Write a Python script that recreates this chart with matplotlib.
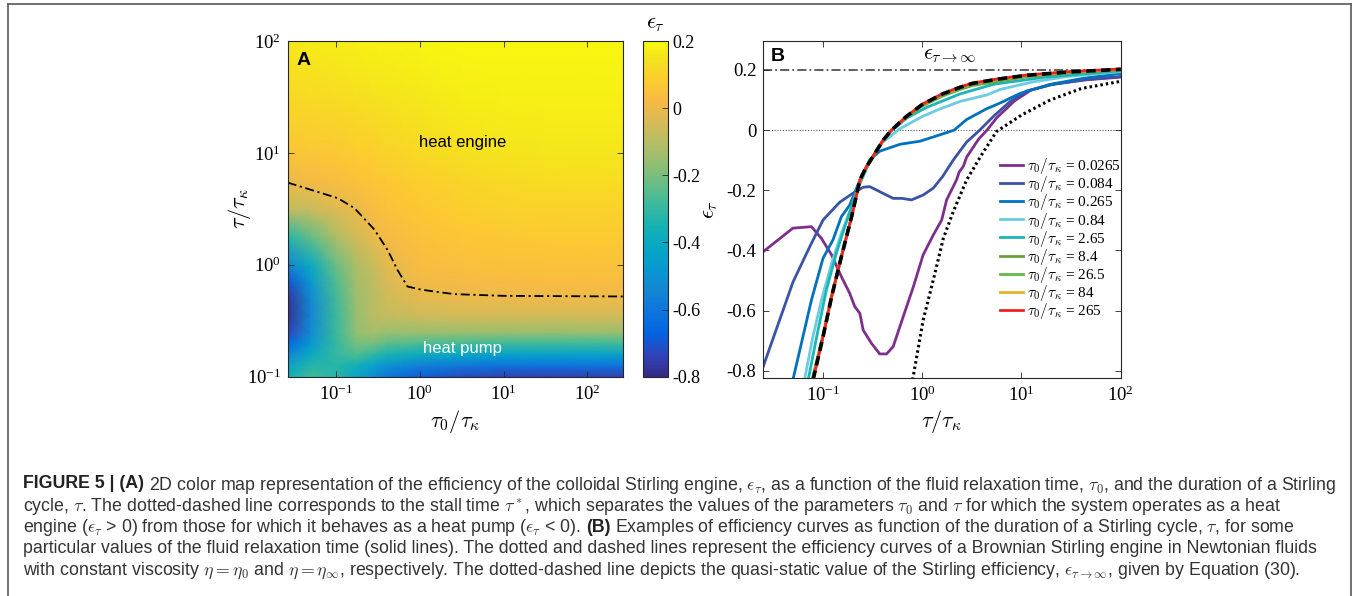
import matplotlib
matplotlib.use('Agg')
import matplotlib.pyplot as plt
import numpy as np
from matplotlib.colors import LinearSegmentedColormap
from matplotlib.font_manager import FontProperties
from matplotlib.lines import Line2D

plt.rcParams['font.family'] = ['Liberation Serif', 'DejaVu Serif']
plt.rcParams['mathtext.fontset'] = 'stix'
plt.rcParams['axes.unicode_minus'] = False

# ---------------- panel A: efficiency map ----------------
tau0_grid = [0.0265, 0.05, 0.1, 0.178, 0.28, 0.4, 1.0, 3.16, 10.0, 31.6, 265.0]
tau_grid = [0.1, 0.126, 0.158, 0.2, 0.25, 0.355, 0.5, 0.708, 1.0, 1.78, 3.16, 5.62, 10.0, 31.6, 100.0]
eff_grid = [
    [-0.38, -0.28, -0.32, -0.42, -0.52, -0.60, -0.68, -0.72, -0.74, -0.74, -0.74],
    [-0.44, -0.33, -0.32, -0.37, -0.44, -0.50, -0.56, -0.59, -0.61, -0.61, -0.61],
    [-0.55, -0.40, -0.30, -0.26, -0.31, -0.35, -0.39, -0.42, -0.44, -0.44, -0.44],
    [-0.66, -0.48, -0.30, -0.20, -0.20, -0.24, -0.26, -0.27, -0.28, -0.28, -0.28],
    [-0.74, -0.52, -0.29, -0.16, -0.13, -0.15, -0.15, -0.15, -0.15, -0.15, -0.15],
    [-0.78, -0.54, -0.29, -0.15, -0.10, -0.08, -0.06, -0.05, -0.05, -0.05, -0.05],
    [-0.77, -0.53, -0.28, -0.14, -0.10, -0.06, -0.015, -0.005, 0.0, 0.0, 0.0],
    [-0.70, -0.48, -0.26, -0.13, -0.09, -0.04, 0.01, 0.02, 0.025, 0.03, 0.03],
    [-0.55, -0.40, -0.22, -0.12, -0.07, -0.02, 0.03, 0.04, 0.045, 0.05, 0.05],
    [-0.32, -0.23, -0.12, -0.05, -0.01, 0.02, 0.05, 0.065, 0.07, 0.075, 0.075],
    [-0.08, -0.07, -0.03, 0.0, 0.03, 0.05, 0.07, 0.09, 0.10, 0.10, 0.10],
    [0.0, 0.02, 0.035, 0.05, 0.06, 0.07, 0.09, 0.11, 0.12, 0.13, 0.13],
    [0.06, 0.065, 0.07, 0.08, 0.09, 0.10, 0.12, 0.14, 0.15, 0.155, 0.155],
    [0.12, 0.125, 0.13, 0.14, 0.145, 0.15, 0.16, 0.17, 0.175, 0.175, 0.175],
    [0.16, 0.165, 0.17, 0.175, 0.18, 0.18, 0.185, 0.19, 0.19, 0.19, 0.19],
]

# stall time tau* (dotted-dashed line)
stall_tau0 = [0.0265, 0.105, 0.166, 0.288, 0.412, 0.542, 0.713, 1.03, 2.56, 10.0, 265.0]
stall_tau = [5.43, 3.94, 3.21, 2.06, 1.36, 0.90, 0.64, 0.60, 0.547, 0.528, 0.521]

cbar_ticks = [0.2, 0, -0.2, -0.4, -0.6, -0.8]
cbar_labels = ['0.2', '0', '-0.2', '-0.4', '-0.6', '-0.8']

# ---------------- panel B: efficiency curves ----------------
tau_a = [0.025, 0.0497, 0.0764, 0.0964, 0.122, 0.153, 0.186, 0.209, 0.235, 0.254,
         0.308, 0.373, 0.437, 0.509, 0.643, 0.813, 1.02, 1.29, 1.57, 1.76,
         2.22, 2.35, 2.6, 2.8, 3.7, 4.5, 5.6, 8.5, 12.5, 21, 45, 100]
eps_a = [-0.404, -0.326, -0.321, -0.36, -0.415, -0.487, -0.543, -0.587, -0.609, -0.665,
         -0.709, -0.744, -0.744, -0.72, -0.62, -0.521, -0.415, -0.349, -0.299, -0.232,
         -0.165, -0.14, -0.12, -0.09, -0.03, 0.0, 0.04, 0.097, 0.133, 0.153, 0.167, 0.176]

tau_b = [0.025, 0.0498, 0.0734, 0.1, 0.147, 0.2, 0.254, 0.296, 0.374, 0.509,
         0.62, 0.78, 1.02, 1.29, 1.6, 2.06, 2.8, 3.8, 5.2, 7.7, 11.3, 19.5, 42, 100]
eps_b = [-0.785, -0.505, -0.388, -0.299, -0.24, -0.21, -0.19, -0.188, -0.205, -0.227,
         -0.227, -0.232, -0.216, -0.193, -0.155, -0.099, -0.04, 0.0, 0.045, 0.095,
         0.13, 0.15, 0.167, 0.178]

tau_c = [0.0497, 0.0764, 0.1, 0.126, 0.153, 0.186, 0.235, 0.295, 0.374, 0.6,
         0.95, 1.5, 2.1, 2.8, 4.4, 6.1, 9.7, 19.5, 42, 100]
eps_c = [-0.83, -0.565, -0.426, -0.365, -0.288, -0.249, -0.166, -0.1, -0.07, -0.047,
         -0.037, -0.016, 0.0, 0.035, 0.07, 0.09, 0.122, 0.152, 0.172, 0.188]

tau_d = [0.065, 0.079, 0.0964, 0.122, 0.153, 0.194, 0.235, 0.28, 0.4, 0.6,
         1.0, 1.5, 2.4, 4.5, 6.1, 13, 29, 100]
eps_d = [-0.83, -0.687, -0.565, -0.443, -0.343, -0.255, -0.17, -0.115, -0.04, 0.005,
         0.045, 0.07, 0.095, 0.117, 0.135, 0.16, 0.178, 0.194]

tau_e = [0.0708, 0.089, 0.108, 0.136, 0.17, 0.22, 0.3, 0.4, 0.5, 0.7, 1.1, 2.4, 5.2, 16.6, 100]
eps_e = [-0.83, -0.665, -0.532, -0.41, -0.31, -0.2, -0.1, -0.035, 0.0, 0.04, 0.075, 0.12,
         0.152, 0.175, 0.197]

tau_f = [0.0776, 0.1, 0.122, 0.153, 0.194, 0.235, 0.27, 0.316, 0.4, 0.49, 0.69, 1.0,
         1.6, 2.4, 3.2, 6.0, 11.3, 30, 100]
eps_f = [-0.83, -0.68, -0.55, -0.42, -0.29, -0.17, -0.127, -0.092, -0.037, 0.0, 0.043,
         0.08, 0.113, 0.135, 0.148, 0.163, 0.177, 0.19, 0.2]

tau_g = [0.078, 0.1, 0.122, 0.153, 0.194, 0.235, 0.27, 0.316, 0.4, 0.49, 0.69, 1.0,
         1.6, 2.4, 3.2, 6.0, 11.3, 30, 100]
eps_g = [-0.83, -0.685, -0.553, -0.42, -0.288, -0.167, -0.126, -0.09, -0.036, 0.0, 0.044,
         0.083, 0.116, 0.138, 0.151, 0.166, 0.179, 0.191, 0.201]

tau_h = [0.0794, 0.1, 0.122, 0.153, 0.194, 0.235, 0.27, 0.316, 0.4, 0.49, 0.69, 1.0,
         1.6, 2.4, 3.2, 6.0, 11.3, 30, 100]
eps_h = [-0.83, -0.687, -0.554, -0.421, -0.288, -0.166, -0.125, -0.09, -0.035, 0.0, 0.045,
         0.085, 0.12, 0.142, 0.155, 0.17, 0.182, 0.193, 0.202]

tau_i = [0.0794, 0.1, 0.122, 0.153, 0.194, 0.235, 0.27, 0.316, 0.4, 0.49, 0.69, 1.0,
         1.6, 2.4, 3.2, 6.0, 11.3, 30, 100]
eps_i = [-0.83, -0.687, -0.554, -0.421, -0.288, -0.166, -0.125, -0.09, -0.035, 0.0, 0.045,
         0.086, 0.121, 0.143, 0.156, 0.171, 0.183, 0.194, 0.203]

# Newtonian references: eta = eta_inf (dashed) and eta = eta_0 (dotted)
tau_inf = [0.0794, 0.1, 0.122, 0.153, 0.194, 0.235, 0.27, 0.316, 0.4, 0.49, 0.69, 1.0,
           1.6, 2.4, 3.2, 6.0, 11.3, 30, 100]
eps_inf_curve = [-0.83, -0.687, -0.554, -0.421, -0.288, -0.166, -0.125, -0.09, -0.035, 0.0,
                 0.045, 0.085, 0.12, 0.142, 0.155, 0.17, 0.182, 0.193, 0.202]
tau_zero = [0.8, 1.02, 1.29, 1.63, 2.06, 2.8, 4.0, 5.6, 10, 19.5, 40, 100]
eps_zero = [-0.83, -0.632, -0.499, -0.36, -0.27, -0.166, -0.08, -0.005, 0.05, 0.1, 0.138, 0.162]

eps_quasistatic = 0.2

tau0_labels = ['0.0265', '0.084', '0.265', '0.84', '2.65', '8.4', '26.5', '84', '265']
curve_colors = ['#7E2F8E', '#3A53A4', '#0072BD', '#6CCDE0', '#1DB5B5',
                '#6A9F3C', '#62B946', '#EDB120', '#EE2222']
curve_tau = [tau_a, tau_b, tau_c, tau_d, tau_e, tau_f, tau_g, tau_h, tau_i]
curve_eps = [eps_a, eps_b, eps_c, eps_d, eps_e, eps_f, eps_g, eps_h, eps_i]

epsB_ticks = [-0.8, -0.6, -0.4, -0.2, 0, 0.2]
epsB_labels = ['-0.8', '-0.6', '-0.4', '-0.2', '0', '0.2']

# MATLAB parula
parula_pts = [(0.2081, 0.1663, 0.5292), (0.1959, 0.2645, 0.7279), (0.0117, 0.3875, 0.8820),
              (0.0498, 0.4586, 0.8641), (0.0793, 0.5200, 0.8312), (0.0343, 0.5966, 0.8199),
              (0.0228, 0.6535, 0.7768), (0.0843, 0.6928, 0.7062), (0.2178, 0.7250, 0.6193),
              (0.3953, 0.7459, 0.5244), (0.5709, 0.7485, 0.4494), (0.7184, 0.7411, 0.3905),
              (0.8507, 0.7299, 0.3360), (0.9739, 0.7314, 0.2666), (0.9880, 0.8066, 0.1794),
              (0.9589, 0.8949, 0.1132), (0.9763, 0.9831, 0.0538)]
parula_pos = [0, 4, 8, 12, 16, 20, 24, 28, 32, 36, 40, 44, 48, 52, 56, 60, 63]
parula = LinearSegmentedColormap.from_list('parula', [(p / 63, c) for p, c in zip(parula_pos, parula_pts)])

W, H = 1360, 596
fig = plt.figure(figsize=(W / 100, H / 100), dpi=100)


def box(l, t, r, b):
    return [l / W, 1 - b / H, (r - l) / W, (b - t) / H]


axA = fig.add_axes(box(287.7, 41, 622.7, 376.7))
cax = fig.add_axes(box(643, 41, 668, 376.7))
axB = fig.add_axes(box(763.3, 41, 1120.7, 377.7))

axis_col = '0.15'
tick_kw = dict(direction='in', length=4, width=0.6, color=axis_col, labelsize=13.5,
               top=True, right=True)

# ---- A ----
T0, T = np.meshgrid(tau0_grid, tau_grid)
axA.set_xscale('log')
axA.set_yscale('log')
mesh = axA.pcolormesh(T0, T, np.array(eff_grid), cmap=parula, vmin=-0.8, vmax=0.2,
                      shading='gouraud', rasterized=True)
axA.plot(stall_tau0, stall_tau, color='k', lw=1.3, ls=(0, (5, 2, 1.2, 2)))
axA.set_xlim(0.0265, 265)
axA.set_ylim(0.1, 100)
axA.set_xticks([0.1, 1, 10, 100])
axA.set_yticks([0.1, 1, 10, 100])
axA.minorticks_off()
axA.tick_params(axis='x', pad=6, **tick_kw)
axA.tick_params(axis='y', pad=5, **tick_kw)
for s in axA.spines.values():
    s.set_color(axis_col)
    s.set_linewidth(0.8)
axA.set_xlabel(r'$\tau_0/\tau_\kappa$', fontsize=16, math_fontfamily='cm')
axA.set_ylabel(r'$\tau/\tau_\kappa$', fontsize=16, math_fontfamily='cm')
axA.xaxis.set_label_coords(0.5, -0.093)
axA.yaxis.set_label_coords(-0.104, 0.5)
axA.xaxis.label.set_va('top')
axA.text(0.046, 0.943, 'A', transform=axA.transAxes, fontsize=14, fontweight='bold',
         family='Liberation Sans', ha='center', va='center')
axA.text(0.523, 0.699, 'heat engine', transform=axA.transAxes, fontsize=12,
         family='Liberation Sans', ha='center', va='center', color='k')
axA.text(0.523, 0.083, 'heat pump', transform=axA.transAxes, fontsize=12,
         family='Liberation Sans', ha='center', va='center', color='white')

cb = fig.colorbar(mesh, cax=cax)
cb.set_ticks(cbar_ticks, labels=cbar_labels)
cb.outline.set_edgecolor(axis_col)
cb.outline.set_linewidth(0.8)
cax.tick_params(direction='in', length=4, width=0.6, color=axis_col, labelsize=13, pad=3)
cax.text(0.5, 1.02, r'$\epsilon_\tau$', transform=cax.transAxes, fontsize=16,
         math_fontfamily='cm', ha='center', va='bottom')

# ---- B ----
axB.set_xscale('log')
lines = []
for tau, eps, c, lab in zip(curve_tau, curve_eps, curve_colors, tau0_labels):
    ln, = axB.plot(tau, eps, color=c, lw=2.0, label=r'$\tau_0/\tau_\kappa$ = ' + lab,
                   solid_joinstyle='round')
    lines.append(ln)
axB.plot(tau_inf, eps_inf_curve, color='k', lw=2.6, ls=(0, (2.6, 1.5)))
axB.plot(tau_zero, eps_zero, color='k', lw=2.2, ls=(0, (0.8, 1.0)))
axB.axhline(eps_quasistatic, color='0.2', lw=1.1, ls=(0, (6, 2, 1.2, 2)), zorder=1)
axB.axhline(0, color='0.35', lw=0.8, ls=(0, (1, 1.5)), zorder=1)
axB.set_xlim(0.025, 100)
axB.set_ylim(-0.823, 0.296)
axB.set_xticks([0.1, 1, 10, 100])
axB.minorticks_off()
axB.set_yticks(epsB_ticks, labels=epsB_labels)
axB.tick_params(axis='x', pad=6, **tick_kw)
axB.tick_params(axis='y', pad=5, **tick_kw)
for s in axB.spines.values():
    s.set_color(axis_col)
    s.set_linewidth(0.8)
axB.set_xlabel(r'$\tau/\tau_\kappa$', fontsize=16, math_fontfamily='cm')
axB.set_ylabel(r'$\epsilon_\tau$', fontsize=16, math_fontfamily='cm')
axB.xaxis.set_label_coords(0.5, -0.09)
axB.xaxis.label.set_va('top')
axB.yaxis.set_label_coords(-0.121, 0.5)
axB.text(0.04, 0.955, 'B', transform=axB.transAxes, fontsize=14, fontweight='bold',
         family='Liberation Sans', ha='center', va='center')
axB.text(0.522, 0.93, r'$\epsilon_{\tau\rightarrow\infty}$', transform=axB.transAxes,
         fontsize=16, math_fontfamily='cm', ha='center', va='bottom')
axB.legend(handles=lines, loc='upper left', bbox_to_anchor=(0.662, 0.658), frameon=False,
           borderpad=0, borderaxespad=0, handlelength=1.5, handletextpad=0.25,
           labelspacing=-0.12, prop=FontProperties(family='Liberation Serif', size=11,
                                                   math_fontfamily='cm'))

# ---- caption box ----
border = '0.35'
fig.add_artist(Line2D([8 / W, 8 / W], [0, 1 - 4 / H], color=border, lw=1.2))
fig.add_artist(Line2D([8 / W, 1351 / W], [1 - 4 / H, 1 - 4 / H], color=border, lw=1.2))
fig.add_artist(Line2D([1351 / W, 1351 / W], [0, 1 - 4 / H], color=border, lw=1.2))

cap_size = 12.8
cap_col = '#333333'
renderer = fig.canvas.get_renderer()
space = 0.278 * cap_size * 100 / 72

caption = [
    [(r'FIGURE 5 | (A)', 'bold'),
     (r'2D color map representation of the efficiency of the colloidal Stirling engine, $\epsilon_\tau$, '
      r'as a function of the fluid relaxation time, $\tau_0$, and the duration of a Stirling', 'normal')],
    [(r'cycle, $\tau$. The dotted-dashed line corresponds to the stall time $\tau^*$, which separates the '
      r'values of the parameters $\tau_0$ and $\tau$ for which the system operates as a heat', 'normal')],
    [(r'engine ($\epsilon_\tau$ > 0) from those for which it behaves as a heat pump ($\epsilon_\tau$ < 0).', 'normal'),
     (r'(B)', 'bold'),
     (r'Examples of efficiency curves as function of the duration of a Stirling cycle, $\tau$, for some', 'normal')],
    [(r'particular values of the fluid relaxation time (solid lines). The dotted and dashed lines represent '
      r'the efficiency curves of a Brownian Stirling engine in Newtonian fluids', 'normal')],
    [(r'with constant viscosity $\eta = \eta_0$ and $\eta = \eta_\infty$, respectively. The dotted-dashed '
      r'line depicts the quasi-static value of the Stirling efficiency, $\epsilon_{\tau\rightarrow\infty}$, '
      r'given by Equation (30).', 'normal')],
]
line_y = [482, 503.5, 525, 546.5, 568]
for y, pieces in zip(line_y, caption):
    x = 23
    for s, w in pieces:
        t = fig.text(x / W, 1 - y / H, s, fontsize=cap_size, fontweight=w, family='Liberation Sans',
                     math_fontfamily='cm', color='#222222' if w == 'bold' else cap_col,
                     ha='left', va='center_baseline')
        x += t.get_window_extent(renderer).width + space

fig.savefig('out.png', dpi=100)
